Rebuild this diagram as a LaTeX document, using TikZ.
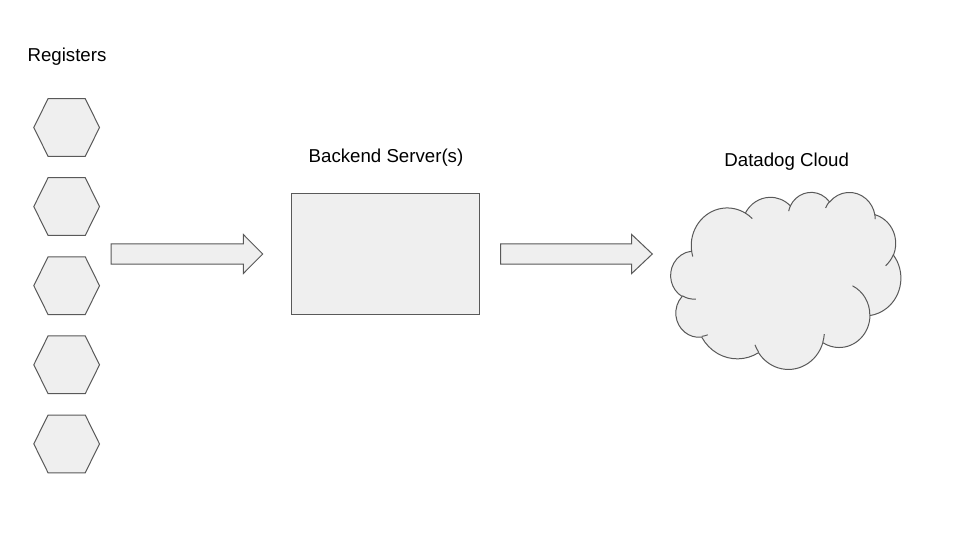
\documentclass[tikz,border=0pt]{standalone}
\usepackage{fontspec}
\setmainfont{Liberation Sans}
\definecolor{shfill}{HTML}{EFEFEF}
\definecolor{shline}{HTML}{595959}
\tikzset{
  shp/.style={draw=shline, fill=shfill, line width=1pt, line join=miter},
  edge line/.style={draw=shline, line width=1pt},
  lbl/.style={font=\fontsize{18.67}{22}\selectfont, anchor=base, inner sep=0pt, text=black},
  hexbox/.style={inner sep=0pt, minimum width=65.3pt, minimum height=57.3pt},
  ooarc/.style n args={4}{x radius=#1, y radius=#2,
    start angle={atan2(sin(#3)*(#1),cos(#3)*(#2))},
    delta angle={mod(atan2(sin(#3+#4)*(#1),cos(#3+#4)*(#2))-atan2(sin(#3)*(#1),cos(#3)*(#2))+720,360)}}
}
\begin{document}
\begin{tikzpicture}[x=1pt,y=-1pt]
\useasboundingbox (0,0) rectangle (960,540);
\fill[white] (0,0) rectangle (960,540);

% labels
\node[lbl] (reglbl) at (67,61.7) {Registers};
\node[lbl] (srvlbl) at (386,162.3) {Backend Server(s)};
\node[lbl] (cldlbl) at (786.7,166.7) {Datadog Cloud};

% registers (hexagons)
\foreach \i/\cy in {1/127.5,2/206.6,3/285.7,4/364.8,5/443.9} {
  \node[hexbox] (reg\i) at (66.65,\cy) {};
  \draw[shp] (reg\i.west) -- ([xshift=14.25pt]reg\i.north west)
    -- ([xshift=-14.25pt]reg\i.north east) -- (reg\i.east)
    -- ([xshift=-14.25pt]reg\i.south east) -- ([xshift=14.25pt]reg\i.south west) -- cycle;
}

% backend server
\node[shp, inner sep=0pt, minimum width=188pt, minimum height=121pt] (server) at (385.4,254) {};

% block arrows
\draw[shp] (111,243.9) -- (243.3,243.9) -- (243.3,234.5) -- (262.7,254) -- (243.3,273.5)
  -- (243.3,264.1) -- (111,264.1) -- cycle;
\draw[shp] (500.7,243.9) -- (631.7,243.9) -- (631.7,234.5) -- (652.3,254) -- (631.7,273.5)
  -- (631.7,264.1) -- (500.7,264.1) -- cycle;

% cloud
\node[inner sep=0pt, minimum width=230pt, minimum height=177pt] (cloud) at (786,280.5) {};
\begin{scope}[shift={(cloud.north west)}, x=0.532407pt, y=-0.409722pt]
\filldraw[shp] (39.00,143.70)
  arc[ooarc={67.53}{91.90}{-190.48748}{123.78053}]
  arc[ooarc={53.33}{72.67}{-144.10238}{89.94523}]
  arc[ooarc={43.65}{59.45}{-145.80792}{99.72302}]
  arc[ooarc={48.57}{65.95}{-130.98607}{117.24173}]
  arc[ooarc={53.33}{72.73}{-78.70888}{109.02692}]
  arc[ooarc={67.75}{92.20}{-46.26725}{130.269}]
  arc[ooarc={57.85}{78.67}{0.62502}{114.03333}]
  arc[ooarc={67.52}{92.15}{22.4516}{115.17255}]
  arc[ooarc={77.20}{105.43}{66.24263}{75.71102}]
  arc[ooarc={43.60}{59.18}{-274.94208}{146.73557}]
  arc[ooarc={43.45}{59.45}{-246.8285}{152.51885}]
  -- cycle;
\draw[edge line]
  (46.93,261.77) arc[ooarc={43.45}{59.45}{86.742}{26.4295}]
  (69.28,348.99) arc[ooarc={43.60}{59.18}{73.61047}{11.44747}]
  (164.78,390.90) arc[ooarc={67.52}{92.15}{137.62415}{14.0811}]
  (288.27,347.51) arc[ooarc={67.52}{92.15}{6.45327}{15.99835}]
  (341.29,229.54) arc[ooarc={57.85}{78.67}{-70.29235}{70.91737}]
  (417.98,153.54) arc[ooarc={53.33}{72.73}{30.31803}{27.7515}]
  (383.24,54.26) arc[ooarc={48.57}{65.95}{-13.74433}{14.8589}]
  (290.78,39.52) arc[ooarc={48.57}{65.95}{-149.18145}{18.19537}]
  (221.41,47.20) arc[ooarc={43.65}{59.45}{-163.49427}{17.68635}]
  (140.00,51.92) arc[ooarc={67.53}{91.90}{-66.70695}{12.31935}]
  (41.27,157.89) arc[ooarc={67.53}{91.90}{157.65435}{11.85817}];
\end{scope}
\end{tikzpicture}
\end{document}
